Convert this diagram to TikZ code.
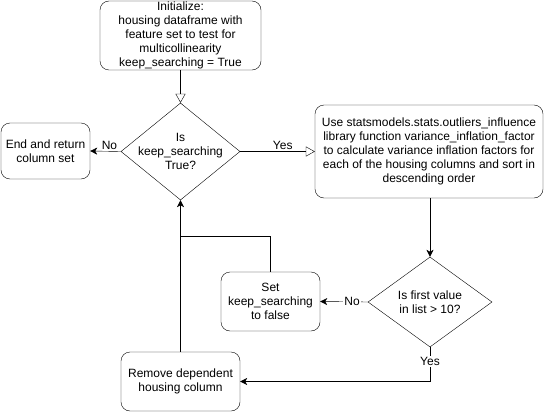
\documentclass[tikz,border=0pt]{standalone}
\usepackage{fontspec}
\setmainfont{Liberation Sans}
\usetikzlibrary{shapes.geometric,arrows.meta}

\begin{document}
\begin{tikzpicture}[x=1pt,y=-1pt,
    every node/.style={font=\fontsize{12}{14}\selectfont, align=center},
    stepbox/.style={draw, rounded corners=9pt, inner sep=0pt},
    decision/.style={draw, diamond, inner sep=0pt},
    flow/.style={-{Stealth[length=7pt,width=7pt,inset=2pt]}},
    openflow/.style={-{Triangle[open,length=9pt,width=10pt]}},
    lbl/.style={fill=white, inner sep=1pt}]

\useasboundingbox (0,0) rectangle (546,412);

% === Start ===
\node[stepbox, minimum width=161pt, minimum height=69pt] (init) at (180.5,35.5)
    {Initialize:\\housing dataframe with\\feature set to test for\\multicollinearity\\keep\_searching = True};

% === Loop test ===
\node[decision, minimum width=119pt, minimum height=97pt] (keepcheck) at (180.5,151.5) {};
\node (keeptext) at (keepcheck) {Is\\keep\_searching\\True?};

\node[stepbox, minimum width=89pt, minimum height=56pt] (endset) at (45.5,151)
    {End and return\\column set};

% === VIF step ===
\node[stepbox, minimum width=228pt, minimum height=93pt] (vif) at (429,151.5)
    {Use statsmodels.stats.outliers\_influence\\library function variance\_inflation\_factor\\to calculate variance inflation factors for\\each of the housing columns and sort in\\descending order};

\node[decision, minimum width=124pt, minimum height=90pt] (firstcheck) at (430,302) {};
\node (firsttext) at (firstcheck) {Is first value\\in list > 10?};

\node[stepbox, minimum width=99pt, minimum height=59pt] (setfalse) at (270.5,301.5)
    {Set\\keep\_searching\\to false};

\node[stepbox, minimum width=119pt, minimum height=59pt] (dropcol) at (180.5,381.5)
    {Remove dependent\\housing column};

\coordinate (join) at (180.5,236);

% === Connectors ===
\draw[openflow] (init) -- (keepcheck);
\draw[flow] (keepcheck.west) -- node[above, inner sep=1pt, pos=0.37] {No} (endset.east);
\draw[openflow] (keepcheck.east) -- node[above, inner sep=2pt, pos=0.57] {Yes} (vif.west);
\draw[flow] (vif.south -| firstcheck) -- (firstcheck.north);
\draw[flow] (firstcheck.west) -- node[lbl, pos=0.33] {No} (setfalse.east);
\draw[flow] (firstcheck.south) -- node[lbl, pos=0.42] {Yes} (firstcheck.south |- dropcol) -- (dropcol.east);
\draw (setfalse.north) |- (join);
\draw[flow] (dropcol.north) -- (keepcheck.south);

\end{tikzpicture}
\end{document}
